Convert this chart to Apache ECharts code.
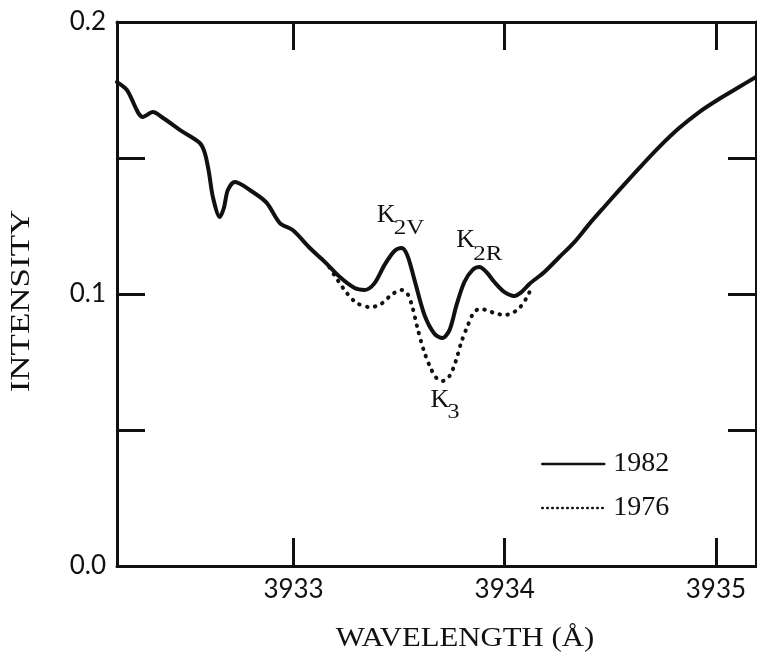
<!DOCTYPE html>
<html>
<head>
<meta charset="utf-8">
<script src="https://cdn.jsdelivr.net/npm/echarts@6/dist/echarts.min.js"></script>
<style>
  html, body { margin: 0; padding: 0; background: #fff; }
  #chart { width: 757px; height: 655px; }
</style>
</head>
<body>
<div id="chart"></div>
<script>
// Ca II K line profile: wavelength (Å) vs. intensity
const wl1982 = [
  3932.164, 3932.211, 3932.287, 3932.334, 3932.382, 3932.476, 3932.556, 3932.580,
  3932.599, 3932.618, 3932.651, 3932.670, 3932.689, 3932.722, 3932.807, 3932.873,
  3932.935, 3932.996, 3933.077, 3933.148, 3933.218, 3933.289, 3933.337, 3933.384,
  3933.431, 3933.478, 3933.512, 3933.540, 3933.573, 3933.620, 3933.668, 3933.705,
  3933.739, 3933.772, 3933.809, 3933.847, 3933.880, 3933.913, 3933.951, 3933.999,
  3934.046, 3934.079, 3934.117, 3934.188, 3934.259, 3934.330, 3934.400, 3934.471,
  3934.542, 3934.637, 3934.731, 3934.826, 3934.921, 3935.015, 3935.110, 3935.190
];
const int1982 = [
  0.1779, 0.1750, 0.1651, 0.1669, 0.1647, 0.1596, 0.1555, 0.1518,
  0.1449, 0.1357, 0.1283, 0.1316, 0.1382, 0.1412, 0.1375, 0.1335,
  0.1261, 0.1235, 0.1169, 0.1118, 0.1063, 0.1022, 0.1015, 0.1040,
  0.1107, 0.1158, 0.1169, 0.1140, 0.1051, 0.0923, 0.0853, 0.0838,
  0.0868, 0.0960, 0.1044, 0.1088, 0.1099, 0.1081, 0.1044, 0.1007,
  0.0993, 0.1007, 0.1037, 0.1081, 0.1136, 0.1191, 0.1257, 0.1320,
  0.1382, 0.1463, 0.1540, 0.1610, 0.1669, 0.1717, 0.1761, 0.1798
];
const wl1976 = [
  3933.170, 3933.209, 3933.252, 3933.299, 3933.360, 3933.408, 3933.469, 3933.512,
  3933.540, 3933.564, 3933.587, 3933.616, 3933.649, 3933.677, 3933.705, 3933.739,
  3933.767, 3933.795, 3933.824, 3933.852, 3933.880, 3933.913, 3933.951, 3933.999,
  3934.036, 3934.070, 3934.103, 3934.131
];
const int1976 = [
  0.1098, 0.1051, 0.1004, 0.0967, 0.0952, 0.0960, 0.1000, 0.1015,
  0.1000, 0.0949, 0.0875, 0.0794, 0.0728, 0.0691, 0.0680, 0.0699,
  0.0750, 0.0824, 0.0882, 0.0930, 0.0945, 0.0941, 0.0930, 0.0923,
  0.0930, 0.0949, 0.0985, 0.1030
];
const seriesNames = ['1982', '1976'];
const xTicks = [3933, 3934, 3935];
const yTicks = [0.05, 0.1, 0.15];
const yLabels = [0, 0.1, 0.2];
const xRange = [3932.164, 3935.19];
const yRange = [0, 0.2];

const pairs = (xs, ys) => xs.map((x, i) => [x, ys[i]]);
const ink = '#111';
const numFont = 'Lato';
const textFont = 'Liberation Serif';

const frameLine = { show: true, onZero: false, lineStyle: { color: ink, width: 3 } };
const innerTick = (vals) => ({
  show: true, inside: true, length: 28, customValues: vals,
  lineStyle: { color: ink, width: 3 }
});

const chart = echarts.init(document.getElementById('chart'), null, { renderer: 'canvas' });

chart.setOption({
  backgroundColor: '#fff',
  animation: false,
  color: [ink, ink],
  grid: { left: 117, right: 1, top: 22, bottom: 89 },
  xAxis: [
    {
      type: 'value', position: 'bottom', min: xRange[0], max: xRange[1],
      axisLine: frameLine, axisTick: innerTick(xTicks),
      axisLabel: {
        customValues: xTicks, color: ink, fontFamily: numFont, fontSize: 26, margin: 11,
        formatter: v => String(Math.round(v))
      },
      splitLine: { show: false }
    },
    {
      type: 'value', position: 'top', min: xRange[0], max: xRange[1],
      axisLine: frameLine, axisTick: innerTick(xTicks),
      axisLabel: { show: false }, splitLine: { show: false }
    }
  ],
  yAxis: [
    {
      type: 'value', position: 'left', min: yRange[0], max: yRange[1],
      axisLine: frameLine, axisTick: innerTick(yTicks),
      axisLabel: {
        customValues: yLabels, color: ink, fontFamily: numFont, fontSize: 26, margin: 11,
        formatter: v => v.toFixed(1)
      },
      splitLine: { show: false }
    },
    {
      type: 'value', position: 'right', min: yRange[0], max: yRange[1],
      axisLine: frameLine, axisTick: innerTick(yTicks),
      axisLabel: { show: false }, splitLine: { show: false }
    }
  ],
  legend: {
    orient: 'vertical', left: 536, top: 444,
    itemWidth: 62, itemHeight: 12, itemGap: 14,
    itemStyle: { opacity: 0 },
    textStyle: { color: ink, fontFamily: textFont, fontSize: 28, lineHeight: 30, padding: [0, 0, 0, 4] },
    data: [
      { name: seriesNames[0], lineStyle: { width: 2.5 }, itemStyle: { opacity: 0 } },
      { name: seriesNames[1], lineStyle: { width: 2.5, type: [0.5, 4.5], cap: 'round' }, itemStyle: { opacity: 0 } }
    ]
  },
  series: [
    {
      name: seriesNames[1], type: 'line', data: pairs(wl1976, int1976),
      symbol: 'none', smooth: 0.3, z: 2,
      lineStyle: { color: ink, width: 4, type: [0.5, 7.5], cap: 'round' }
    },
    {
      name: seriesNames[0], type: 'line', data: pairs(wl1982, int1982),
      symbol: 'none', smooth: 0.3, z: 3,
      lineStyle: { color: ink, width: 4, cap: 'round', join: 'round' }
    }
  ]
});

// Feature labels anchored to the profile's peaks and core
function at(xs, ys, i) {
  return chart.convertToPixel({ gridIndex: 0 }, [xs[i], ys[i]]);
}
function txt(x, y, text, size, align, extra) {
  return Object.assign({
    type: 'text', x: x, y: y, silent: true,
    style: {
      text: text, fill: ink, font: size + 'px "' + textFont + '"',
      align: align, verticalAlign: 'middle',
      textAlign: align, textVerticalAlign: 'middle'
    }
  }, extra || {});
}

const pV = at(wl1982, int1982, 26);   // violet emission peak
const pR = at(wl1982, int1982, 36);   // red emission peak
const p3 = at(wl1976, int1976, 14);   // central reversal

chart.setOption({
  graphic: [
    txt(465, 639, 'WAVELENGTH (Å)', 27, 'center', { scaleX: 1.14 }),
    txt(22, 301, 'INTENSITY', 28, 'center', { scaleX: 1.25, rotation: Math.PI / 2 }),
    txt(pV[0] - 25, pV[1] - 33, 'K', 26, 'left'),
    txt(pV[0] - 8, pV[1] - 19.5, '2V', 20, 'left', { scaleX: 1.25 }),
    txt(pR[0] - 23, pR[1] - 27, 'K', 26, 'left'),
    txt(pR[0] - 6, pR[1] - 12.5, '2R', 20, 'left', { scaleX: 1.25 }),
    txt(p3[0] - 12, p3[1] + 19.5, 'K', 26, 'left'),
    txt(p3[0] + 5, p3[1] + 31.5, '3', 20, 'left', { scaleX: 1.2 })
  ]
});
</script>
</body>
</html>
